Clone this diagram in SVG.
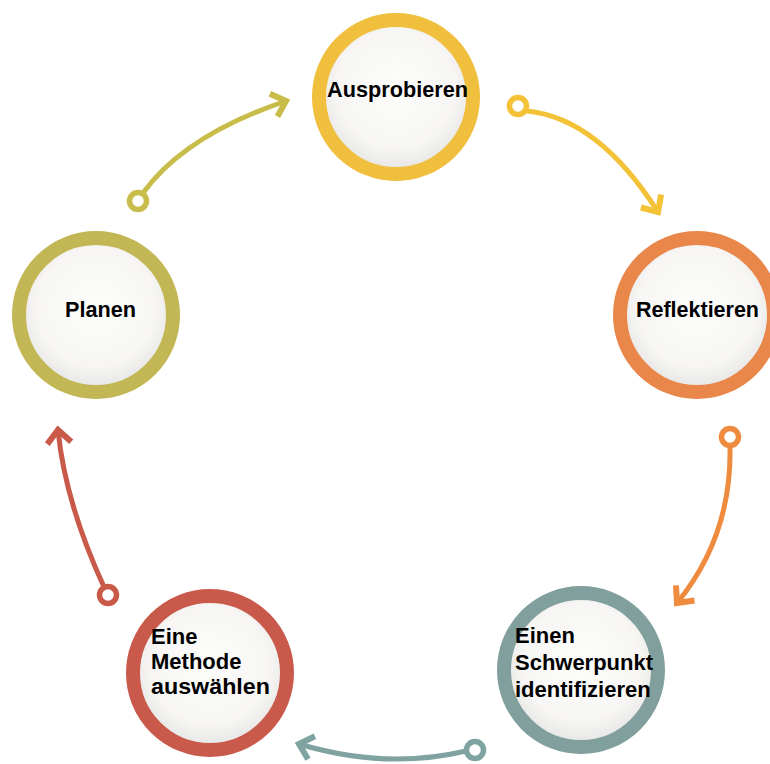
<svg xmlns="http://www.w3.org/2000/svg" width="770" height="764" viewBox="0 0 770 764">
<style>
.ring{stroke-width:14}
.inner{fill:url(#g)}
.lbl{font-family:"Liberation Sans",Arial,sans-serif;font-weight:bold;font-size:22px;fill:#000}
.conn{fill:none;stroke-width:5;stroke-linecap:round}
.dot{fill:#fff;stroke-width:5.5}
</style>
<defs>
<radialGradient id="g" cx="0.5" cy="0.45" r="0.55">
<stop offset="0" stop-color="#fdfdfc"/>
<stop offset="0.7" stop-color="#f7f6f4"/>
<stop offset="1" stop-color="#e3e3e3"/>
</radialGradient>
<marker id="mOl" markerUnits="userSpaceOnUse" orient="auto" markerWidth="40" markerHeight="40" refX="0" refY="0" viewBox="-20 -20 40 40" overflow="visible"><path d="M-13,-12 L0,0 L-13,12" fill="none" stroke="#c8bd4a" stroke-width="6"/></marker>
<marker id="mYe" markerUnits="userSpaceOnUse" orient="auto" markerWidth="40" markerHeight="40" refX="0" refY="0" viewBox="-20 -20 40 40" overflow="visible"><path d="M-13,-12 L0,0 L-13,12" fill="none" stroke="#f4c236" stroke-width="6"/></marker>
<marker id="mOr" markerUnits="userSpaceOnUse" orient="auto" markerWidth="40" markerHeight="40" refX="0" refY="0" viewBox="-20 -20 40 40" overflow="visible"><path d="M-13,-12 L0,0 L-13,12" fill="none" stroke="#ee8b3e" stroke-width="6"/></marker>
<marker id="mTe" markerUnits="userSpaceOnUse" orient="auto" markerWidth="40" markerHeight="40" refX="0" refY="0" viewBox="-20 -20 40 40" overflow="visible"><path d="M-13,-12 L0,0 L-13,12" fill="none" stroke="#7ea3a1" stroke-width="6"/></marker>
<marker id="mRe" markerUnits="userSpaceOnUse" orient="auto" markerWidth="40" markerHeight="40" refX="0" refY="0" viewBox="-20 -20 40 40" overflow="visible"><path d="M-13,-12 L0,0 L-13,12" fill="none" stroke="#c95a4a" stroke-width="6"/></marker>
</defs>
<rect width="770" height="764" fill="#ffffff"/>

<g id="connectors">
<path class="conn" stroke="#c8bd4a" d="M143,193 Q185,135 286,101" marker-end="url(#mOl)"/>
<circle class="dot" stroke="#c8bd4a" cx="138" cy="201" r="8.5"/>
<path class="conn" stroke="#f4c236" d="M527,111 Q598,118 658,212" marker-end="url(#mYe)"/>
<circle class="dot" stroke="#f4c236" cx="518" cy="106" r="8.5"/>
<path class="conn" stroke="#ee8b3e" d="M730,446 Q732,536 677,603" marker-end="url(#mOr)"/>
<circle class="dot" stroke="#ee8b3e" cx="730" cy="437" r="8.5"/>
<path class="conn" stroke="#7ea3a1" d="M466,751 Q386,770 299,744" marker-end="url(#mTe)"/>
<circle class="dot" stroke="#7ea3a1" cx="475" cy="750" r="8.5"/>
<path class="conn" stroke="#c95a4a" d="M104,587 Q65,502 58,430" marker-end="url(#mRe)"/>
<circle class="dot" stroke="#c95a4a" cx="108" cy="595" r="8.5"/>
</g>

<g id="node-ausprobieren">
<circle class="inner ring" stroke="#f1bf3e" cx="396" cy="97" r="77"/>
<text class="lbl" x="327" y="97" textLength="141" lengthAdjust="spacingAndGlyphs">Ausprobieren</text>
</g>
<g id="node-reflektieren">
<circle class="inner ring" stroke="#e9874a" cx="697" cy="315" r="77"/>
<text class="lbl" x="636" y="317" textLength="123" lengthAdjust="spacingAndGlyphs">Reflektieren</text>
</g>
<g id="node-schwerpunkt">
<circle class="inner ring" stroke="#809f9d" cx="581" cy="670" r="77"/>
<text class="lbl" x="515" y="643">Einen</text>
<text class="lbl" x="515" y="670" textLength="138" lengthAdjust="spacingAndGlyphs">Schwerpunkt</text>
<text class="lbl" x="515" y="697">identifizieren</text>
</g>
<g id="node-methode">
<circle class="inner ring" stroke="#c95a4b" cx="210" cy="673" r="77"/>
<text class="lbl" x="151" y="644">Eine</text>
<text class="lbl" x="151" y="669">Methode</text>
<text class="lbl" x="151" y="694" textLength="119" lengthAdjust="spacingAndGlyphs">auswählen</text>
</g>
<g id="node-planen">
<circle class="inner ring" stroke="#c3b654" cx="96" cy="315" r="77"/>
<text class="lbl" x="65" y="317" textLength="71" lengthAdjust="spacingAndGlyphs">Planen</text>
</g>
</svg>
